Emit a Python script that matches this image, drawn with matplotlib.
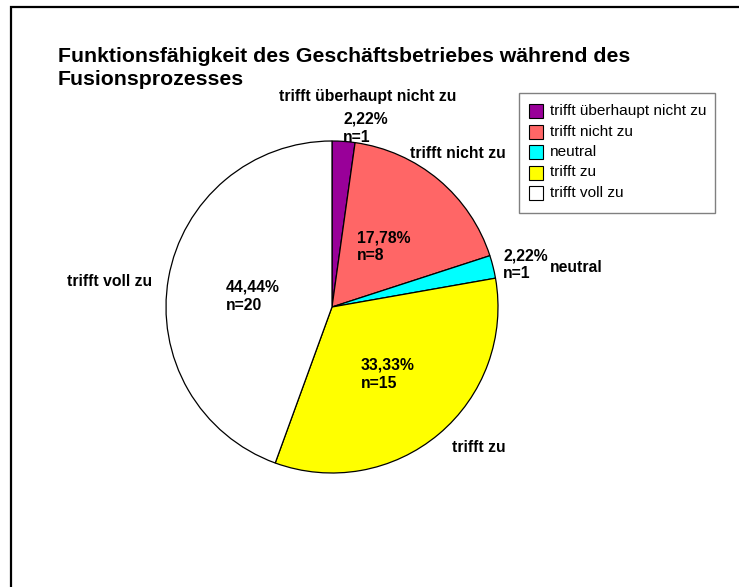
import matplotlib
matplotlib.use("Agg")
import matplotlib.pyplot as plt
from matplotlib.patches import Rectangle
from matplotlib.lines import Line2D

# ---- data ----
categories = ["trifft überhaupt nicht zu", "trifft nicht zu", "neutral", "trifft zu", "trifft voll zu"]
counts = [1, 8, 1, 15, 20]
percent_labels = ["2,22%", "17,78%", "2,22%", "33,33%", "44,44%"]
title_lines = ["Funktionsfähigkeit des Geschäftsbetriebes während des", "Fusionsprozesses"]

# ---- styles ----
colors = ["#990099", "#FF6666", "#00FFFF", "#FFFF00", "#FFFFFF"]
W, H = 739, 587
FONT = "Liberation Sans"

fig = plt.figure(figsize=(W / 100, H / 100), dpi=100)
ax = fig.add_axes([0, 0, 1, 1])

def Y(y):  # pixel-from-top -> data
    return H - y

# pie
cx, cy, r = 332, Y(307), 166
wedges, _ = ax.pie(counts, colors=colors, startangle=90, counterclock=False,
                   center=(cx, cy), radius=r, frame=True,
                   wedgeprops=dict(edgecolor="black", linewidth=0.9))
ax.set_xlim(0, W)
ax.set_ylim(0, H)
ax.set_aspect("equal")
ax.axis("off")

# border (top & left of chart area)
ax.add_line(Line2D([11, 11, W], [0, Y(7), Y(7)], color="black", lw=1.6, solid_joinstyle="miter"))

# title
for i, line in enumerate(title_lines):
    ax.text(58, Y(62 + i * 23), line, fontsize=15.3, fontweight="bold", family=FONT,
            ha="left", va="baseline")

lab_kw = dict(fontsize=11.3, fontweight="bold", family=FONT)

# category labels (layout positions, px from top-left)
cat_pos = [(368, 97, "center"), (410, 153, "left"), (550, 267, "left"), (452, 448, "left"), (152, 281, "right")]
for name, (x, y, ha) in zip(categories, cat_pos):
    ax.text(x, Y(y), name, ha=ha, va="center", **lab_kw)

# value labels
val_pos = [(343, 119), (357, 238), (503, 256), (361, 365), (226, 287)]
for pct, n, (x, y) in zip(percent_labels, counts, val_pos):
    ax.text(x, Y(y), pct, ha="left", va="center", **lab_kw)
    ax.text(x, Y(y + 18), f"n={n}", ha="left", va="center", **lab_kw)

# legend
lx, ly, lw_, lh = 519, 93, 196, 120
ax.add_patch(Rectangle((lx, Y(ly + lh)), lw_, lh, facecolor="white", edgecolor="#808080", lw=1.0))
for i, (name, c) in enumerate(zip(categories, colors)):
    yy = 111 + i * 20.5
    ax.add_patch(Rectangle((529, Y(yy + 7)), 14, 14, facecolor=c, edgecolor="black", lw=0.8))
    ax.text(550, Y(yy), name, fontsize=11.1, family=FONT, ha="left", va="center")

fig.savefig("out.png", dpi=100)
